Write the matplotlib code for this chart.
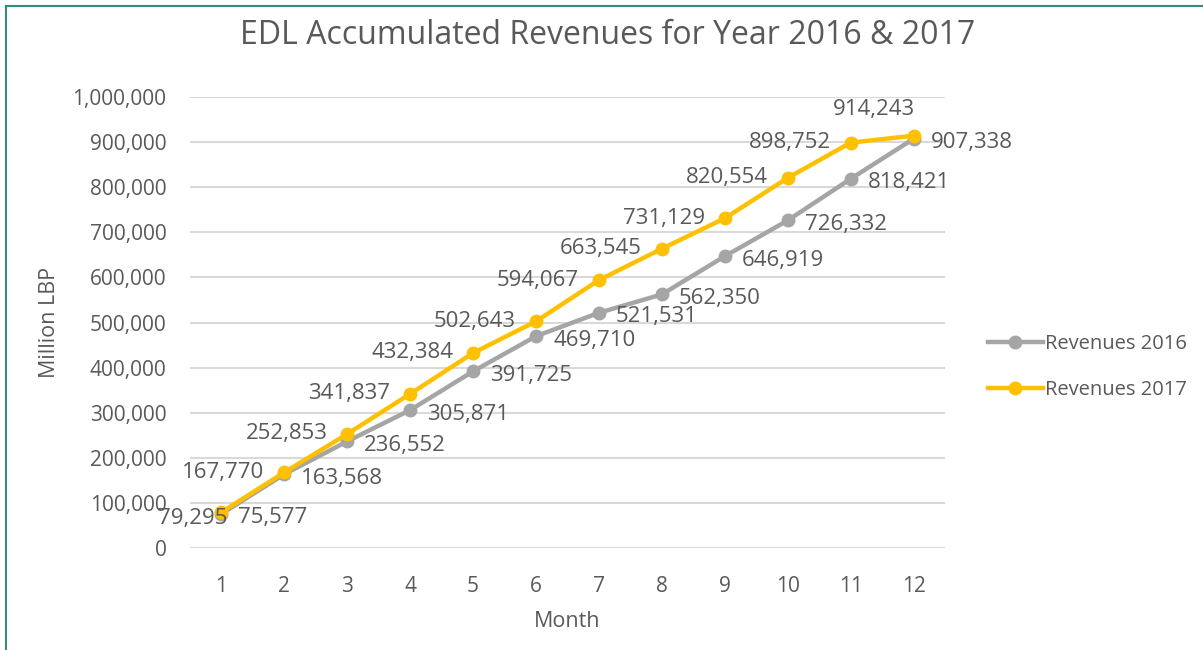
import matplotlib.pyplot as plt
from matplotlib.lines import Line2D
from matplotlib.ticker import FuncFormatter

months = list(range(1, 13))
rev_2016 = [75577, 163568, 236552, 305871, 391725, 469710, 521531, 562350, 646919, 726332, 818421, 907338]
rev_2017 = [79295, 167770, 252853, 341837, 432384, 502643, 594067, 663545, 731129, 820554, 898752, 914243]
y_ticks = list(range(0, 1000001, 100000))

grey = '#A5A5A5'
gold = '#FFC000'
txt = '#595959'

plt.rcParams['font.family'] = ['Open Sans', 'DejaVu Sans']

fig = plt.figure(figsize=(12.03, 6.5), dpi=100)
ax = fig.add_axes([190 / 1203, 1 - 548 / 650, 755 / 1203, 451 / 650])

ax.plot(months, rev_2016, color=grey, lw=3.2, marker='o', ms=9, label='Revenues 2016', zorder=3)
ax.plot(months, rev_2017, color=gold, lw=3.2, marker='o', ms=9, label='Revenues 2017', zorder=4)

# data labels: 2016 to the right, 2017 to the left
for m, v in zip(months, rev_2016):
    ax.annotate(f'{v:,}', (m, v), xytext=(17, -4), textcoords='offset pixels',
                ha='left', va='center', fontsize=16, color=txt, zorder=5)
for m, v in zip(months, rev_2017):
    if m == 1:
        off, ha = (6, -6), 'right'
    elif m == 12:
        off, ha = (-40, 26), 'center'
    else:
        off, ha = (-20, 0), 'right'
    ax.annotate(f'{v:,}', (m, v), xytext=off, textcoords='offset pixels',
                ha=ha, va='center', fontsize=16, color=txt, zorder=5)

ax.set_xlim(0.5, 12.5)
ax.set_ylim(0, 1000000)
ax.set_xticks(months)
ax.set_yticks(y_ticks)
ax.yaxis.set_major_formatter(FuncFormatter(lambda v, p: f'{int(v):,}'))
ax.grid(axis='y', color='#D9D9D9', lw=1.5)
ax.set_axisbelow(True)
for s in ax.spines.values():
    s.set_visible(False)
ax.tick_params(axis='both', length=0, labelsize=15, colors=txt)
ax.tick_params(axis='y', pad=17)
ax.tick_params(axis='x', pad=20)

ax.set_xlabel('Month', fontsize=15.5, color=txt, labelpad=10)
ax.set_ylabel('Million LBP', fontsize=15.5, color=txt, labelpad=9)
fig.suptitle('EDL Accumulated Revenues for Year 2016 & 2017', x=0.505, y=0.97,
             fontsize=23, color=txt)

fig.legend(handles=[Line2D([], [], color=grey, lw=3.2, marker='o', ms=9),
                    Line2D([], [], color=gold, lw=3.2, marker='o', ms=9)],
           labels=['Revenues 2016', 'Revenues 2017'], loc='center left',
           bbox_to_anchor=(970 / 1203, 1 - 367 / 650), frameon=False, fontsize=14.5,
           labelcolor=txt, handlelength=2.7, handletextpad=0.1, labelspacing=1.25)

# outer frame
fig.add_artist(Line2D([6 / 1203, 6 / 1203], [0, 1 - 6 / 650], color='#3A8A7C', lw=1.5))
fig.add_artist(Line2D([6 / 1203, 1], [1 - 6 / 650, 1 - 6 / 650], color='#3A8A7C', lw=1.5))

fig.savefig('out.png', dpi=100, facecolor='white')
